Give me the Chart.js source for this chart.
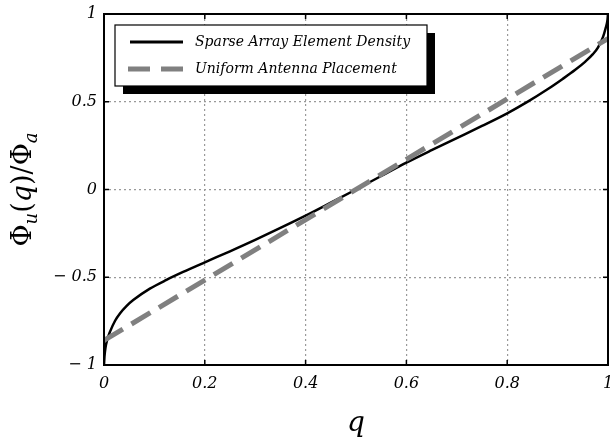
<!DOCTYPE html>
<html>
<head>
<meta charset="utf-8">
<script src="https://cdn.jsdelivr.net/npm/chart.js@4"></script>
<style>
  body { margin: 0; background: #fff; }
  canvas { display: block; }
</style>
</head>
<body>
<canvas id="phiChart" width="613" height="442"></canvas>
<script>
// Curve samples
const qSparse = [0, 0.001, 0.003, 0.006, 0.012, 0.022, 0.032, 0.045, 0.058, 0.091, 0.124, 0.157, 0.2, 0.25, 0.3, 0.35, 0.4, 0.45, 0.5,
                 0.55, 0.6, 0.65, 0.7, 0.75, 0.8, 0.84, 0.88, 0.91, 0.935, 0.955, 0.97, 0.98, 0.99, 0.995, 0.999, 1];
const phiSparse = [-1, -0.95, -0.9, -0.86, -0.81, -0.748, -0.705, -0.663, -0.63, -0.565, -0.515, -0.47, -0.415, -0.352, -0.287, -0.219, -0.149, -0.075, 0,
                   0.077, 0.153, 0.224, 0.293, 0.362, 0.434, 0.499, 0.571, 0.63, 0.682, 0.729, 0.771, 0.809, 0.868, 0.916, 0.966, 1];
const qUniform = [0, 1];
const phiUniform = [-0.86, 0.86];

const seriesNames = ['Sparse Array Element Density', 'Uniform Antenna Placement'];
const xTicks = [0, 0.2, 0.4, 0.6, 0.8, 1];
const yTicks = [-1, -0.5, 0, 0.5, 1];

const tickFont = { family: 'DejaVu Serif', style: 'italic', size: 16 };

function toPoints(xs, ys) {
  return xs.map((x, i) => ({ x: x, y: ys[i] }));
}

// Box, inner ticks, legend and axis titles
const decorations = {
  id: 'decorations',
  afterDraw(chart) {
    const { ctx, chartArea: a, scales: { x, y } } = chart;
    ctx.save();

    // inner tick marks
    ctx.strokeStyle = '#000';
    ctx.lineWidth = 1.5;
    xTicks.forEach(v => {
      const px = x.getPixelForValue(v);
      ctx.beginPath();
      ctx.moveTo(px, a.bottom); ctx.lineTo(px, a.bottom - 5);
      ctx.moveTo(px, a.top); ctx.lineTo(px, a.top + 5);
      ctx.stroke();
    });
    yTicks.forEach(v => {
      const py = y.getPixelForValue(v);
      ctx.beginPath();
      ctx.moveTo(a.left, py); ctx.lineTo(a.left + 5, py);
      ctx.moveTo(a.right, py); ctx.lineTo(a.right - 5, py);
      ctx.stroke();
    });

    // frame
    ctx.lineWidth = 2;
    ctx.strokeRect(a.left, a.top, a.right - a.left, a.bottom - a.top);

    // legend with drop shadow
    const lx = 115, ly = 25, lw = 312, lh = 61;
    ctx.fillStyle = '#000';
    ctx.fillRect(lx + 8, ly + 8, lw, lh);
    ctx.fillStyle = '#fff';
    ctx.fillRect(lx, ly, lw, lh);
    ctx.lineWidth = 1.2;
    ctx.strokeStyle = '#000';
    ctx.strokeRect(lx, ly, lw, lh);

    ctx.lineWidth = 2.8;
    ctx.beginPath(); ctx.moveTo(130, 42); ctx.lineTo(183, 42); ctx.stroke();
    ctx.strokeStyle = '#808080';
    ctx.lineWidth = 5;
    ctx.beginPath();
    ctx.moveTo(128, 69); ctx.lineTo(150, 69);
    ctx.moveTo(161, 69); ctx.lineTo(183, 69);
    ctx.stroke();

    ctx.fillStyle = '#000';
    ctx.font = 'italic 14px "DejaVu Serif"';
    ctx.textBaseline = 'middle';
    ctx.textAlign = 'left';
    ctx.fillText(seriesNames[0], 195, 42);
    ctx.fillText(seriesNames[1], 195, 69);

    // x title
    ctx.font = 'italic 28px "DejaVu Serif"';
    ctx.textAlign = 'center';
    ctx.fillText('q', (a.left + a.right) / 2, 424);

    // y title  Φ_u(q)/Φ_a
    ctx.translate(31, (a.top + a.bottom) / 2);
    ctx.rotate(-Math.PI / 2);
    const parts = [
      ['Φ', '27px "DejaVu Serif"', 0],
      ['u', 'italic 18px "DejaVu Serif"', 6],
      ['(', '27px "DejaVu Serif"', 0],
      ['q', 'italic 27px "DejaVu Serif"', 0],
      [')/', '27px "DejaVu Serif"', 0],
      ['Φ', '27px "DejaVu Serif"', 0],
      ['a', 'italic 18px "DejaVu Serif"', 6]
    ];
    let total = 0;
    parts.forEach(p => { ctx.font = p[1]; total += ctx.measureText(p[0]).width; });
    let cx = -total / 2;
    ctx.textAlign = 'left';
    ctx.textBaseline = 'alphabetic';
    parts.forEach(p => {
      ctx.font = p[1];
      ctx.fillText(p[0], cx, p[2]);
      cx += ctx.measureText(p[0]).width;
    });

    ctx.restore();
  }
};

new Chart(document.getElementById('phiChart').getContext('2d'), {
  type: 'scatter',
  data: {
    datasets: [
      {
        label: seriesNames[1],
        data: toPoints(qUniform, phiUniform),
        showLine: true,
        borderColor: '#808080',
        borderWidth: 5,
        borderDash: [22, 10],
        pointRadius: 0
      },
      {
        label: seriesNames[0],
        data: toPoints(qSparse, phiSparse),
        showLine: true,
        borderColor: '#000',
        borderWidth: 2.5,
        cubicInterpolationMode: 'monotone',
        pointRadius: 0
      }
    ]
  },
  options: {
    responsive: false,
    animation: false,
    layout: { padding: { top: 14, right: 5, left: 0, bottom: 0 } },
    plugins: { legend: { display: false }, tooltip: { enabled: false } },
    scales: {
      x: {
        type: 'linear', min: 0, max: 1,
        afterBuildTicks: s => { s.ticks = xTicks.map(v => ({ value: v })); },
        afterFit: s => { s.height = 77; s.paddingLeft = 0; s.paddingRight = 0; },
        ticks: {
          font: tickFont, color: '#000', padding: 9, maxRotation: 0,
          callback: v => (v === 0 || v === 1) ? String(v) : v.toFixed(1)
        },
        grid: { color: '#999', lineWidth: 1.2, drawTicks: false },
        border: { display: false, dash: [2, 3] }
      },
      y: {
        type: 'linear', min: -1, max: 1,
        afterBuildTicks: s => { s.ticks = yTicks.map(v => ({ value: v })); },
        afterFit: s => { s.width = 104; s.paddingTop = 0; s.paddingBottom = 0; },
        ticks: {
          font: tickFont, color: '#000', padding: 7,
          callback: v => v < 0 ? '\u2212 ' + Math.abs(v) : String(v)
        },
        grid: { color: '#999', lineWidth: 1.2, drawTicks: false },
        border: { display: false, dash: [2, 3] }
      }
    }
  },
  plugins: [decorations]
});
</script>
</body>
</html>
